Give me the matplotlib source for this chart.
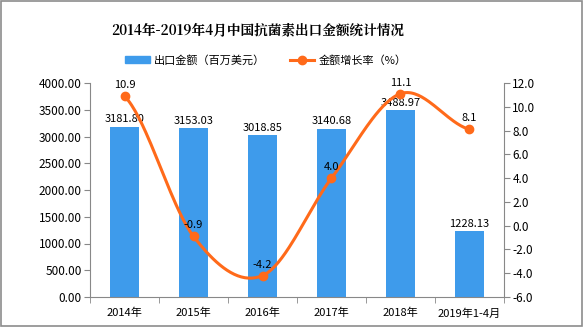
import numpy as np
import matplotlib
matplotlib.use("Agg")
import matplotlib.pyplot as plt
from matplotlib.patches import Rectangle, Patch
from matplotlib.lines import Line2D

plt.rcParams['font.family'] = ['Noto Sans CJK SC', 'DejaVu Sans']

categories = ["2014年", "2015年", "2016年", "2017年", "2018年", "2019年1-4月"]
amounts = [3181.80, 3153.03, 3018.85, 3140.68, 3488.97, 1228.13]
growth = [10.9, -0.9, -4.2, 4.0, 11.1, 8.1]
amount_ticks = [0, 500, 1000, 1500, 2000, 2500, 3000, 3500, 4000]
growth_ticks = [-6, -4, -2, 0, 2, 4, 6, 8, 10, 12]

bar_color = "#3E9BEB"
line_color = "#FF6A1A"

fig = plt.figure(figsize=(5.84, 3.27), dpi=100)
fig.patches.append(Rectangle((0.002, 0.003), 0.995, 0.993, transform=fig.transFigure,
                             fill=False, edgecolor="#8c8c8c", linewidth=1.2))

ax = fig.add_axes([90/584, 1-297/327, (504-90)/584, (297-83)/327])
x = np.arange(len(categories))
ax.bar(x, amounts, width=0.42, color=bar_color, zorder=2)
ax.set_xlim(-0.5, len(categories)-0.5)
ax.set_ylim(0, 4000)
ax.set_yticks(amount_ticks)
ax.set_yticklabels([f"{v:.2f}" for v in amount_ticks], fontsize=8.5)
ax.set_xticks(x)
ax.set_xticklabels(categories, fontsize=8)
ax.set_xticks(np.arange(len(categories)+1)-0.5, minor=True)
ax.tick_params(axis='x', which='major', length=0, pad=8)
ax.tick_params(axis='x', which='minor', length=4, color="#888888")
ax.tick_params(axis='y', length=4, color="#888888", pad=2)
for s in ['top', 'right']:
    ax.spines[s].set_visible(False)
for s in ['left', 'bottom']:
    ax.spines[s].set_color("#888888")
for xi, v in zip(x, amounts):
    ax.text(xi, v + 50, f"{v:.2f}", ha='center', va='bottom', fontsize=8)

ax2 = ax.twinx()
ax2.set_ylim(-6, 12)
ax2.set_yticks(growth_ticks)
ax2.set_yticklabels([f"{v:.1f}" for v in growth_ticks], fontsize=8.5)
ax2.tick_params(axis='y', length=4, color="#888888", pad=2)
for s in ['top', 'left', 'bottom']:
    ax2.spines[s].set_visible(False)
ax2.spines['right'].set_color("#888888")

# smooth curve (Catmull-Rom through the data points)
px = x.astype(float)
py = np.array(growth, dtype=float)
xs, ys = [], []
for i in range(len(px)-1):
    p0 = (px[i-1] if i > 0 else 2*px[0]-px[1], py[i-1] if i > 0 else py[0])
    p1 = (px[i], py[i]); p2 = (px[i+1], py[i+1])
    p3 = (px[i+2] if i+2 < len(px) else 2*px[-1]-px[-2], py[i+2] if i+2 < len(px) else py[-1])
    t = np.linspace(0, 1, 40)
    for k, arr in ((0, xs), (1, ys)):
        a0, a1, a2, a3 = p0[k], p1[k], p2[k], p3[k]
        arr.extend(0.5*((2*a1) + (-a0+a2)*t + (2*a0-5*a1+4*a2-a3)*t**2 + (-a0+3*a1-3*a2+a3)*t**3))
ax2.plot(xs, ys, color=line_color, linewidth=2.2, zorder=3)
ax2.plot(px, py, 'o', color=line_color, markersize=6, zorder=4)
for xi, v in zip(px, py):
    ax2.text(xi, v + 0.5, f"{v:.1f}", ha='center', va='bottom', fontsize=8)

handles = [Patch(color=bar_color, label="出口金额（百万美元）"),
           Line2D([0], [0], color=line_color, marker='o', linewidth=2.2, markersize=6, label="金额增长率（%）")]
fig.legend(handles=handles, loc='center', bbox_to_anchor=(266/584, 1-60/327), ncol=2,
           frameon=False, fontsize=8, columnspacing=2.2, handlelength=2.2, handletextpad=0.4)

fig.text(258/584, 1-30/327, "2014年-2019年4月中国抗菌素出口金额统计情况", ha='center', va='center',
         fontsize=9.8, fontweight='bold', family=['Noto Serif CJK SC', 'Noto Sans CJK SC', 'DejaVu Sans'])

fig.savefig("out.png", dpi=100)
